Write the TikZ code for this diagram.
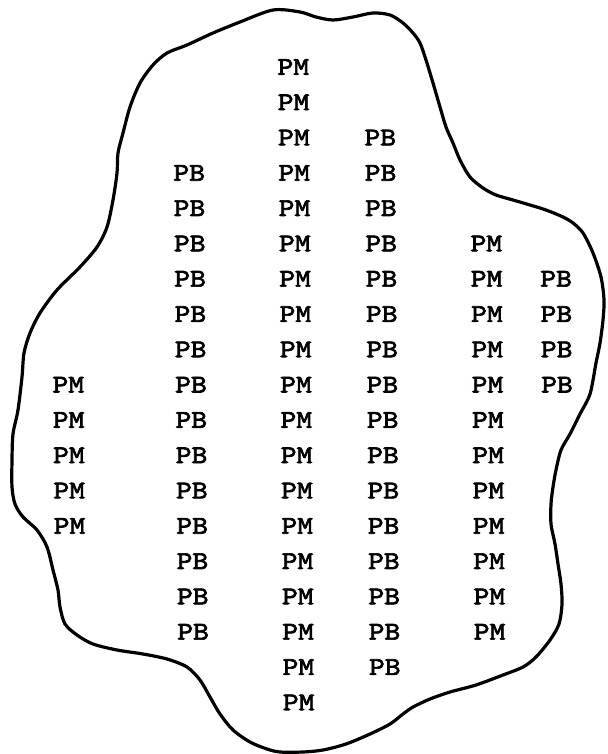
\documentclass[tikz,border=0pt]{standalone}
\usepackage{fontspec}
\newfontfamily\maquina{lmmono10-regular}[Extension=.otf, FakeStretch=1.18, FakeBold=2.6]
\begin{document}
\begin{tikzpicture}[x=1pt, y=-1pt,
    celda/.style={inner sep=0pt, font=\maquina\fontsize{25.5}{30}\selectfont},
    borde/.style={line width=3.2pt, line join=round}]
    % Marco de la figura
    \useasboundingbox (0,0) rectangle (607,754);

    % Contorno irregular de la region
    \draw[borde] plot[smooth cycle, tension=0.5] coordinates {
        (273,10) (300,12) (316,17) (333,20) (353,17) (373,13) (390,15) (403,23)
        (413,33) (420,43) (426,60) (433,83) (440,107) (446,127) (453,143) (460,160)
        (470,177) (483,188) (496,195) (513,200) (530,205) (546,210) (563,217) (573,223)
        (583,233) (593,253) (601,277) (604,300) (603,320) (600,343) (596,363) (590,394)
        (580,414) (570,434) (561,450) (556,470) (553,487) (551,504) (551,524) (555,544)
        (558,564) (561,584) (562,604) (559,624) (550,640) (536,657) (523,667) (503,675)
        (476,685) (450,692) (430,699) (413,707) (403,714) (390,724) (370,734) (346,744)
        (323,750) (303,752) (280,752) (267,749) (250,742) (233,730) (220,714) (210,697)
        (200,680) (187,667) (167,659) (143,654) (117,650) (93,644) (77,635) (65,624)
        (60,607) (58,590) (53,570) (47,547) (37,530) (23,517) (15,504) (12,487)
        (12,460) (13,434) (18,410) (22,377) (24,353) (30,333) (40,313) (57,290)
        (80,267) (97,247) (107,227) (113,200) (117,173) (118,153) (123,133) (130,107)
        (140,83) (153,65) (167,53) (187,45) (213,33) (240,22)};

    % Columnas de etiquetas: columna / x inicial / texto / primera fila / ultima fila
    \foreach \c/\x/\t/\a/\b in {1/65.3/PM/10/14, 2/188/PB/4/17, 3/293/PM/1/19,
                                 4/379.4/PB/3/18, 5/484.5/PM/6/17, 6/554/PB/7/10}
        \foreach \r in {\a,...,\b}
            \node[celda] (c\c-\r) at ({\x+0.3*\r}, {67+35.3*(\r-1)}) {\t};

\end{tikzpicture}
\end{document}
